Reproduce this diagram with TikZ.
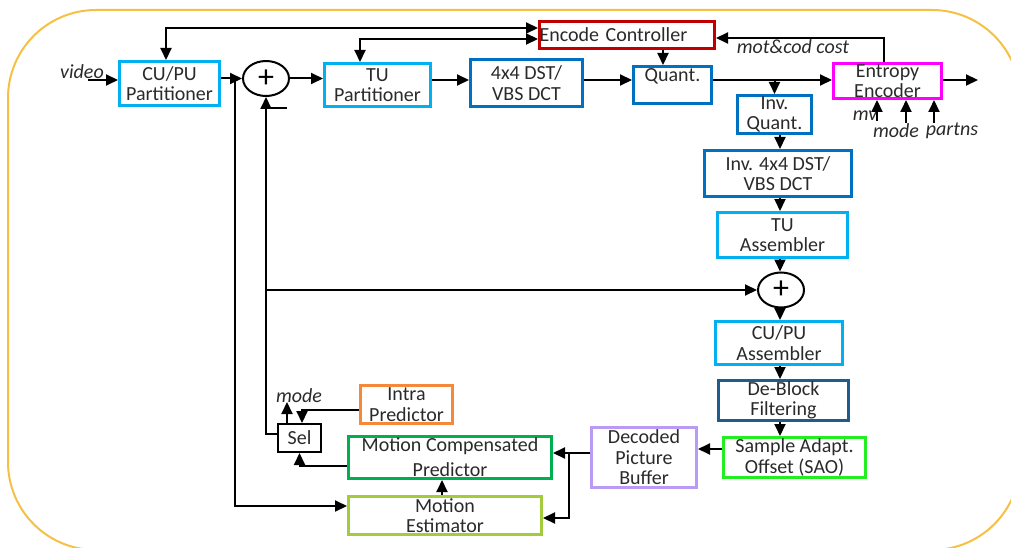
\documentclass[tikz,border=0pt]{standalone}
\usepackage{fontspec}
\setmainfont{Carlito}
\usetikzlibrary{arrows.meta,shapes.geometric,calc}
\definecolor{cyanb}{HTML}{00B0F0}
\definecolor{blueb}{HTML}{0070C0}
\definecolor{redb}{HTML}{C00000}
\definecolor{magb}{HTML}{FF00FF}
\definecolor{dbfb}{HTML}{1F5C8C}
\definecolor{saob}{HTML}{22EE22}
\definecolor{dpbb}{HTML}{B99AF5}
\definecolor{intrab}{HTML}{F5893A}
\definecolor{mcpb}{HTML}{00B050}
\definecolor{meb}{HTML}{A3CC3C}
\definecolor{frameo}{HTML}{F5C044}
\definecolor{txt}{HTML}{2A2A2A}
\begin{document}
\begin{tikzpicture}[x=1pt,y=-1pt,
 bx/.style={draw,line width=3pt,inner sep=0pt,align=center,text=txt,font=\fontsize{20}{20.5}\selectfont},
 arr/.style={line width=2pt,-{Triangle[length=12pt,width=11pt]}},
 darr/.style={line width=2pt,{Triangle[length=12pt,width=11pt]}-{Triangle[length=12pt,width=11pt]}},
 ln/.style={line width=2pt},
 lbl/.style={font=\fontsize{20}{20}\selectfont\itshape,text=txt,inner sep=0pt},
 sum/.style={ellipse,draw,line width=2pt,minimum width=46pt,minimum height=35pt,inner sep=0pt,text=black,font=\fontsize{32}{32}\selectfont}]

\useasboundingbox (0,0) rectangle (1011,548);
\draw[frameo,line width=2pt,rounded corners=88pt] (8,10) rectangle (1020,550);

% nodes
\node[bx,draw=cyanb,minimum width=100pt,minimum height=44pt] (cupu) at (169.5,83.5) {CU/PU\\Partitioner};
\node[sum] (plus1) at (266,78.5) {+};
\node[bx,draw=cyanb,minimum width=106pt,minimum height=43pt] (tup) at (377.5,85) {TU\\Partitioner};
\node[bx,draw=blueb,minimum width=112pt,minimum height=47pt] (dst) at (526.5,83) {4x4 DST/\\VBS DCT};
\node[bx,draw=blueb,minimum width=78pt,minimum height=37pt] (quant) at (672.5,85) {Quant.\\\mbox{}};
\node[bx,draw=redb,text width=175pt,align=left,minimum height=27pt] (enc) at (627,35) {Encode Controller};
\node[bx,draw=magb,minimum width=108pt,minimum height=35pt] (ent) at (887.5,81) {Entropy\\Encoder};
\node[bx,draw=blueb,minimum width=74pt,minimum height=38pt] (iq) at (774.5,114.5) {Inv.\\Quant.};
\node[bx,draw=blueb,minimum width=147pt,minimum height=46pt] (idst) at (778,173.5) {Inv. 4x4 DST/\\VBS DCT};
\node[bx,draw=cyanb,minimum width=130pt,minimum height=45pt] (tua) at (782.5,235) {TU\\Assembler};
\node[sum] (plus2) at (781,290) {+};
\node[bx,draw=cyanb,minimum width=127pt,minimum height=43pt] (cua) at (779,343) {CU/PU\\Assembler};
\node[bx,draw=dbfb,minimum width=130pt,minimum height=40pt] (dbf) at (783.5,400.5) {De-Block\\Filtering};
\node[bx,draw=saob,minimum width=142pt,minimum height=40pt] (sao) at (794.5,457.5) {Sample Adapt.\\Offset (SAO)};
\node[bx,draw=dpbb,minimum width=105pt,minimum height=60pt] (dpb) at (644,457.5) {Decoded\\Picture\\Buffer};
\node[bx,draw=black,line width=2pt,minimum width=43pt,minimum height=28pt] (sel) at (299.5,438) {Sel};
\node[bx,draw=intrab,minimum width=92pt,minimum height=38pt] (intra) at (406.5,404.5) {Intra\\Predictor};
\node[bx,draw=mcpb,minimum width=203pt,minimum height=42pt,font=\fontsize{20}{25}\selectfont] (mcp) at (450,457.5) {Motion Compensated\\Predictor};
\node[bx,draw=meb,minimum width=193pt,minimum height=38pt] (me) at (445,515.5) {Motion\\Estimator};

% labels
\node[lbl] (videoL) at (82,72) {video};
\node[lbl] (costL) at (793,47) {mot\&cod cost};
\node[lbl] (modeS) at (299,396) {mode};
\node[lbl] (mvL) at (865,116) {mv};
\node[lbl] (modeE) at (896,131) {mode};
\node[lbl] (partL) at (952,131) {partns};

% helper coordinates
\coordinate (row) at (0,80);
\coordinate (vin) at (88,80);
\coordinate (out) at (978,80);
\coordinate (fb) at (884,38);
\coordinate (eq) at (663,0);
\coordinate (t1) at (166,28);
\coordinate (t2) at (360,39);
\coordinate (bx) at (235,79.5);
\coordinate (mey) at (0,506);
\coordinate (ix) at (302,410);
\coordinate (mtip) at (287,402);
\coordinate (my) at (0,466);
\coordinate (mx2) at (442,0);
\coordinate (dy) at (569,453);
\coordinate (ey) at (569,518);
\coordinate (sy) at (0,449);
\coordinate (cx) at (780,0);
\coordinate (i1) at (877,121);
\coordinate (i2) at (906,123);
\coordinate (i3) at (934,123);

% forward path
\draw[arr] (vin) -- (vin -| cupu.west);
\draw[arr] (cupu.east |- plus1.west) -- (plus1.west);
\draw[arr] (plus1.east) -- (plus1.east -| tup.west);
\draw[arr] (tup.east |- row) -- (dst.west |- row);
\draw[arr] (dst.east |- row) -- (quant.west |- row);
\draw[arr] (quant.east |- row) -- (ent.west |- row);
\draw[arr] (iq.north |- row) -- (iq.north);
\draw[arr] (ent.east |- row) -- (out);

% control
\draw[arr] (fb |- ent.north) -- (fb) -- (fb -| enc.east);
\draw[arr] (eq |- enc.south) -- (eq |- quant.north);
\draw[darr] (t1 |- cupu.north) -- (t1) -- (t1 -| enc.west);
\draw[darr] (t2 |- tup.north) -- (t2) -- (t2 -| enc.west);

% entropy inputs
\draw[arr] (i1) -- (i1 |- ent.south);
\draw[arr] (i2) -- (i2 |- ent.south);
\draw[arr] (i3) -- (i3 |- ent.south);

% reconstruction chain
\draw[arr] (cx |- iq.south) -- (cx |- idst.north);
\draw[arr] (cx |- idst.south) -- (cx |- tua.north);
\draw[arr] (cx |- tua.south) -- (cx |- plus2.north);
\draw[arr] (cx |- plus2.south) -- (cx |- cua.north);
\draw[arr] (cx |- cua.south) -- (cx |- dbf.north);
\draw[arr] (cx |- dbf.south) -- (cx |- sao.north);
\draw[arr] (sao.west |- sy) -- (dpb.east |- sy);
\draw[arr] (dpb.west |- dy) -- (mcp.east |- dy);
\draw[arr] (dy) -- (ey) -- (me.east |- ey);

% prediction
\draw[arr] (bx) -- (bx |- mey) -- (me.west |- mey);
\draw[arr] (mx2 |- me.north) -- (mx2 |- mcp.south);
\draw[arr] (mcp.west |- my) -| (sel.south);
\draw[arr] (intra.west |- ix) -- (ix) -- (ix |- sel.north);
\draw[arr] (mtip |- sel.north) -- (mtip);
\draw[arr] ($(sel.west)+(0,-4)$) -- ($(sel.west -| plus1.south)+(0,-4)$) -- (plus1.south);
\draw[arr] (plus1.south |- plus2.west) -- (plus2.west);
\draw[ln] ($(plus1.south)+(2,11)$) -- ($(plus1.south)+(21,11)$);
\end{tikzpicture}
\end{document}
